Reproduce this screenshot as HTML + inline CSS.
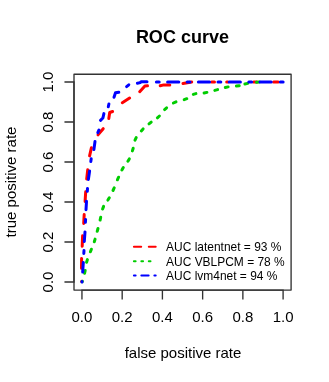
<!DOCTYPE html>
<html><head><meta charset="utf-8"><title>ROC curve</title>
<style>html,body{margin:0;padding:0;background:#fff;}body{width:329px;height:382px;overflow:hidden;position:relative;font-family:"Liberation Sans",sans-serif;}</style></head>
<body>
<svg width="329" height="382" viewBox="0 0 329 382" style="position:absolute;left:0;top:0;will-change:transform;font-family:'Liberation Sans',sans-serif">
<rect x="0" y="0" width="329" height="382" fill="#fff"/>
<path d="M81.7,281.5 L81.7,281.2" fill="none" stroke="#ff0000" stroke-width="3.0" stroke-linecap="round" stroke-linejoin="round"/>
<path d="M81.5,268.2 L81.6,258.6" fill="none" stroke="#ff0000" stroke-width="3.0" stroke-linecap="round" stroke-linejoin="round"/>
<path d="M82.2,246.2 L82.6,235.8" fill="none" stroke="#ff0000" stroke-width="3.0" stroke-linecap="round" stroke-linejoin="round"/>
<path d="M83.7,223.4 L84.2,214.6" fill="none" stroke="#ff0000" stroke-width="3.0" stroke-linecap="round" stroke-linejoin="round"/>
<path d="M85.1,201.4 L85.7,191.8" fill="none" stroke="#ff0000" stroke-width="3.0" stroke-linecap="round" stroke-linejoin="round"/>
<path d="M86.7,178.9 L87.7,169.8" fill="none" stroke="#ff0000" stroke-width="3.0" stroke-linecap="round" stroke-linejoin="round"/>
<path d="M89.6,155.9 L91.4,147.8" fill="none" stroke="#ff0000" stroke-width="3.0" stroke-linecap="round" stroke-linejoin="round"/>
<path d="M98.0,134.9 L103.2,128.7" fill="none" stroke="#ff0000" stroke-width="3.0" stroke-linecap="round" stroke-linejoin="round"/>
<path d="M108.8,118.4 L109.7,112.5 L112.6,111.5" fill="none" stroke="#ff0000" stroke-width="3.0" stroke-linecap="round" stroke-linejoin="round"/>
<path d="M122.3,102.7 L129.6,98.1" fill="none" stroke="#ff0000" stroke-width="3.0" stroke-linecap="round" stroke-linejoin="round"/>
<path d="M139.7,91.7 L144.9,86.0 L147.5,85.8" fill="none" stroke="#ff0000" stroke-width="3.0" stroke-linecap="round" stroke-linejoin="round"/>
<path d="M160.2,85.7 L163.8,84.9 L169.8,84.9" fill="none" stroke="#ff0000" stroke-width="3.0" stroke-linecap="round" stroke-linejoin="round"/>
<path d="M183.0,83.5 L191.7,82.1" fill="none" stroke="#ff0000" stroke-width="3.0" stroke-linecap="round" stroke-linejoin="round"/>
<path d="M211.6,82.1 L214.5,82.1" fill="none" stroke="#ff0000" stroke-width="3.0" stroke-linecap="round" stroke-linejoin="round"/>
<path d="M226.7,82.1 L227.9,82.1" fill="none" stroke="#ff0000" stroke-width="3.0" stroke-linecap="round" stroke-linejoin="round"/>
<path d="M253.6,82.1 L256.9,82.1" fill="none" stroke="#ff0000" stroke-width="3.0" stroke-linecap="round" stroke-linejoin="round"/>
<path d="M273.6,82.1 L278.2,82.1" fill="none" stroke="#ff0000" stroke-width="3.0" stroke-linecap="round" stroke-linejoin="round"/>
<path d="M82.2,281.8 L82.4,281.2" fill="none" stroke="#00cd00" stroke-width="3.0" stroke-linecap="round" stroke-linejoin="round"/>
<path d="M84.6,273.2 L85.2,270.4" fill="none" stroke="#00cd00" stroke-width="3.0" stroke-linecap="round" stroke-linejoin="round"/>
<path d="M86.6,262.2 L87.4,259.6" fill="none" stroke="#00cd00" stroke-width="3.0" stroke-linecap="round" stroke-linejoin="round"/>
<path d="M90.4,251.8 L91.4,249.2" fill="none" stroke="#00cd00" stroke-width="3.0" stroke-linecap="round" stroke-linejoin="round"/>
<path d="M94.3,241.7 L95.1,239.1" fill="none" stroke="#00cd00" stroke-width="3.0" stroke-linecap="round" stroke-linejoin="round"/>
<path d="M97.2,231.3 L98.0,228.5" fill="none" stroke="#00cd00" stroke-width="3.0" stroke-linecap="round" stroke-linejoin="round"/>
<path d="M100.1,220.1 L100.7,217.3" fill="none" stroke="#00cd00" stroke-width="3.0" stroke-linecap="round" stroke-linejoin="round"/>
<path d="M102.6,209.0 L103.6,206.4" fill="none" stroke="#00cd00" stroke-width="3.0" stroke-linecap="round" stroke-linejoin="round"/>
<path d="M107.9,200.1 L109.3,197.7" fill="none" stroke="#00cd00" stroke-width="3.0" stroke-linecap="round" stroke-linejoin="round"/>
<path d="M113.0,190.5 L114.2,187.9" fill="none" stroke="#00cd00" stroke-width="3.0" stroke-linecap="round" stroke-linejoin="round"/>
<path d="M117.4,179.8 L118.6,177.2" fill="none" stroke="#00cd00" stroke-width="3.0" stroke-linecap="round" stroke-linejoin="round"/>
<path d="M121.9,170.0 L123.3,167.6" fill="none" stroke="#00cd00" stroke-width="3.0" stroke-linecap="round" stroke-linejoin="round"/>
<path d="M127.9,161.3 L129.3,158.9" fill="none" stroke="#00cd00" stroke-width="3.0" stroke-linecap="round" stroke-linejoin="round"/>
<path d="M132.4,150.9 L133.2,148.3" fill="none" stroke="#00cd00" stroke-width="3.0" stroke-linecap="round" stroke-linejoin="round"/>
<path d="M135.0,140.2 L136.2,137.6" fill="none" stroke="#00cd00" stroke-width="3.0" stroke-linecap="round" stroke-linejoin="round"/>
<path d="M141.3,130.9 L143.1,128.9" fill="none" stroke="#00cd00" stroke-width="3.0" stroke-linecap="round" stroke-linejoin="round"/>
<path d="M149.0,123.9 L151.2,122.1" fill="none" stroke="#00cd00" stroke-width="3.0" stroke-linecap="round" stroke-linejoin="round"/>
<path d="M157.4,117.8 L159.4,116.0" fill="none" stroke="#00cd00" stroke-width="3.0" stroke-linecap="round" stroke-linejoin="round"/>
<path d="M164.6,109.6 L166.6,107.8" fill="none" stroke="#00cd00" stroke-width="3.0" stroke-linecap="round" stroke-linejoin="round"/>
<path d="M173.4,103.0 L176.0,101.8" fill="none" stroke="#00cd00" stroke-width="3.0" stroke-linecap="round" stroke-linejoin="round"/>
<path d="M184.2,99.7 L186.8,98.7" fill="none" stroke="#00cd00" stroke-width="3.0" stroke-linecap="round" stroke-linejoin="round"/>
<path d="M193.3,94.4 L195.9,93.6" fill="none" stroke="#00cd00" stroke-width="3.0" stroke-linecap="round" stroke-linejoin="round"/>
<path d="M204.1,93.0 L206.9,92.4" fill="none" stroke="#00cd00" stroke-width="3.0" stroke-linecap="round" stroke-linejoin="round"/>
<path d="M214.8,90.4 L217.6,89.6" fill="none" stroke="#00cd00" stroke-width="3.0" stroke-linecap="round" stroke-linejoin="round"/>
<path d="M225.3,87.5 L228.1,86.9" fill="none" stroke="#00cd00" stroke-width="3.0" stroke-linecap="round" stroke-linejoin="round"/>
<path d="M236.4,86.1 L239.2,85.7" fill="none" stroke="#00cd00" stroke-width="3.0" stroke-linecap="round" stroke-linejoin="round"/>
<path d="M244.9,84.0 L247.7,83.4" fill="none" stroke="#00cd00" stroke-width="3.0" stroke-linecap="round" stroke-linejoin="round"/>
<path d="M256.5,82.3 L259.3,81.9" fill="none" stroke="#00cd00" stroke-width="3.0" stroke-linecap="round" stroke-linejoin="round"/>
<path d="M82.7,272.1 L83.3,262.5" fill="none" stroke="#0000ff" stroke-width="3.0" stroke-linecap="round" stroke-linejoin="round"/>
<path d="M84.3,241.5 L85.0,231.9" fill="none" stroke="#0000ff" stroke-width="3.0" stroke-linecap="round" stroke-linejoin="round"/>
<path d="M86.0,209.7 L86.5,201.3" fill="none" stroke="#0000ff" stroke-width="3.0" stroke-linecap="round" stroke-linejoin="round"/>
<path d="M88.4,179.4 L89.6,171.1" fill="none" stroke="#0000ff" stroke-width="3.0" stroke-linecap="round" stroke-linejoin="round"/>
<path d="M93.9,149.6 L95.0,141.5" fill="none" stroke="#0000ff" stroke-width="3.0" stroke-linecap="round" stroke-linejoin="round"/>
<path d="M100.5,120.3 L102.9,118.0 L103.9,113.6" fill="none" stroke="#0000ff" stroke-width="3.0" stroke-linecap="round" stroke-linejoin="round"/>
<path d="M114.0,97.3 L115.5,92.8 L118.8,92.2" fill="none" stroke="#0000ff" stroke-width="3.0" stroke-linecap="round" stroke-linejoin="round"/>
<path d="M137.4,83.2 L140.2,82.6 L141.0,81.8 L147.0,81.8" fill="none" stroke="#0000ff" stroke-width="3.0" stroke-linecap="round" stroke-linejoin="round"/>
<path d="M167.6,82.1 L178.8,82.1" fill="none" stroke="#0000ff" stroke-width="3.0" stroke-linecap="round" stroke-linejoin="round"/>
<path d="M198.4,82.1 L209.6,82.1" fill="none" stroke="#0000ff" stroke-width="3.0" stroke-linecap="round" stroke-linejoin="round"/>
<path d="M229.2,82.1 L240.4,82.1" fill="none" stroke="#0000ff" stroke-width="3.0" stroke-linecap="round" stroke-linejoin="round"/>
<path d="M260.0,82.1 L271.2,82.1" fill="none" stroke="#0000ff" stroke-width="3.0" stroke-linecap="round" stroke-linejoin="round"/>
<path d="M82.0,281.4 L82.0,282.1" fill="none" stroke="#0000ff" stroke-width="3.0" stroke-linecap="round" stroke-linejoin="round"/>
<path d="M83.8,253.4 L84.0,250.6" fill="none" stroke="#0000ff" stroke-width="3.0" stroke-linecap="round" stroke-linejoin="round"/>
<path d="M85.4,222.3 L85.6,219.5" fill="none" stroke="#0000ff" stroke-width="3.0" stroke-linecap="round" stroke-linejoin="round"/>
<path d="M87.3,191.3 L87.5,188.5" fill="none" stroke="#0000ff" stroke-width="3.0" stroke-linecap="round" stroke-linejoin="round"/>
<path d="M90.8,161.5 L91.2,158.7" fill="none" stroke="#0000ff" stroke-width="3.0" stroke-linecap="round" stroke-linejoin="round"/>
<path d="M97.8,132.6 L99.0,130.0" fill="none" stroke="#0000ff" stroke-width="3.0" stroke-linecap="round" stroke-linejoin="round"/>
<path d="M108.3,106.8 L108.9,104.0" fill="none" stroke="#0000ff" stroke-width="3.0" stroke-linecap="round" stroke-linejoin="round"/>
<path d="M126.6,86.6 L128.8,84.8" fill="none" stroke="#0000ff" stroke-width="3.0" stroke-linecap="round" stroke-linejoin="round"/>
<path d="M156.4,82.1 L159.2,82.1" fill="none" stroke="#0000ff" stroke-width="3.0" stroke-linecap="round" stroke-linejoin="round"/>
<path d="M187.2,82.1 L190.0,82.1" fill="none" stroke="#0000ff" stroke-width="3.0" stroke-linecap="round" stroke-linejoin="round"/>
<path d="M218.0,82.1 L220.8,82.1" fill="none" stroke="#0000ff" stroke-width="3.0" stroke-linecap="round" stroke-linejoin="round"/>
<path d="M248.8,82.1 L251.6,82.1" fill="none" stroke="#0000ff" stroke-width="3.0" stroke-linecap="round" stroke-linejoin="round"/>
<path d="M280.3,82.1 L283.1,82.1" fill="none" stroke="#0000ff" stroke-width="3.0" stroke-linecap="round" stroke-linejoin="round"/>
<rect x="74.0" y="74.25" width="217.10" height="215.80" stroke-linejoin="round" fill="none" stroke="#333" stroke-width="1.35"/>
<path d="M81.275,290.05 L283.77500000000003,290.05 M81.95,290.05 L81.95,299.6 M122.18,290.05 L122.18,299.6 M162.41,290.05 L162.41,299.6 M202.64,290.05 L202.64,299.6 M242.87,290.05 L242.87,299.6 M283.10,290.05 L283.10,299.6 M74.0,282.675 L74.0,81.325 M74.0,282.00 L64.45,282.00 M74.0,242.00 L64.45,242.00 M74.0,202.00 L64.45,202.00 M74.0,162.00 L64.45,162.00 M74.0,122.00 L64.45,122.00 M74.0,82.00 L64.45,82.00 " fill="none" stroke="#333" stroke-width="1.35" stroke-linecap="butt"/>
<text x="81.95" y="322.3" font-size="15" text-anchor="middle">0.0</text>
<text x="122.18" y="322.3" font-size="15" text-anchor="middle">0.2</text>
<text x="162.41" y="322.3" font-size="15" text-anchor="middle">0.4</text>
<text x="202.64" y="322.3" font-size="15" text-anchor="middle">0.6</text>
<text x="242.87" y="322.3" font-size="15" text-anchor="middle">0.8</text>
<text x="283.10" y="322.3" font-size="15" text-anchor="middle">1.0</text>
<text transform="translate(52.7,282.00) rotate(-90)" font-size="15" text-anchor="middle">0.0</text>
<text transform="translate(52.7,242.00) rotate(-90)" font-size="15" text-anchor="middle">0.2</text>
<text transform="translate(52.7,202.00) rotate(-90)" font-size="15" text-anchor="middle">0.4</text>
<text transform="translate(52.7,162.00) rotate(-90)" font-size="15" text-anchor="middle">0.6</text>
<text transform="translate(52.7,122.00) rotate(-90)" font-size="15" text-anchor="middle">0.8</text>
<text transform="translate(52.7,82.00) rotate(-90)" font-size="15" text-anchor="middle">1.0</text>
<text x="182.4" y="43.2" font-size="18" font-weight="bold" text-anchor="middle">ROC curve</text>
<text x="183" y="358.3" font-size="15" text-anchor="middle">false positive rate</text>
<text transform="translate(16.3,182) rotate(-90)" font-size="15" text-anchor="middle">true positive rate</text>
<path d="M133.9,246.7 L155.7,246.7" stroke="#ff0000" stroke-width="2" stroke-linecap="round" stroke-dasharray="7.3 7.58" fill="none"/>
<text x="166.1" y="250.9" font-size="11.96">AUC latentnet = 93 %</text>
<path d="M133.9,261.2 L155.7,261.2" stroke="#00cd00" stroke-width="2" stroke-linecap="round" stroke-dasharray="1.72 5.72" fill="none"/>
<text x="166.1" y="265.5" font-size="11.96">AUC VBLPCM = 78 %</text>
<path d="M133.9,275.6 L155.7,275.6" stroke="#0000ff" stroke-width="2" stroke-linecap="round" stroke-dasharray="1.72 5.72 7.3 5.72" fill="none"/>
<text x="166.1" y="280.1" font-size="11.96">AUC lvm4net = 94 %</text>
</svg>
</body></html>
